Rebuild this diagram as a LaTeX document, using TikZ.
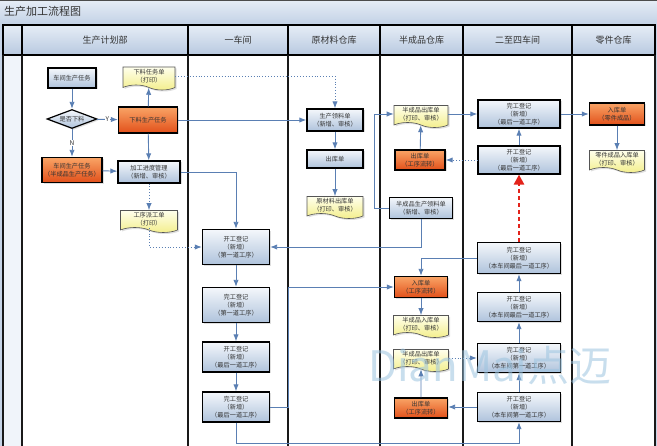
\documentclass[tikz,border=0pt]{standalone}
\usepackage{fontspec}
\setmainfont{Noto Sans CJK SC}
\usetikzlibrary{arrows.meta,positioning,calc,shapes.geometric,shapes.symbols,shadows}
\definecolor{LineBlue}{HTML}{5A7FB3}
\definecolor{TextGray}{HTML}{333333}
\definecolor{BoxTop}{HTML}{F4F7FB}
\definecolor{BoxBot}{HTML}{AFC3DC}
\definecolor{OrTop}{HTML}{F9A466}
\definecolor{OrBot}{HTML}{E2501A}
\definecolor{DocTop}{HTML}{FFFFEC}
\definecolor{DocBot}{HTML}{F3EE8A}
\definecolor{DocLine}{HTML}{555555}
\definecolor{HeadTop}{HTML}{E6EDF6}
\definecolor{HeadBot}{HTML}{B8C9E0}
\definecolor{FrameBlue}{HTML}{C6D4E7}
\definecolor{RedDash}{HTML}{E3231B}
\definecolor{WaterBlue}{HTML}{9CC4E0}

\begin{document}
\begin{tikzpicture}[x=1pt, y=-1pt, >=Latex,
  every node/.style={font=\fontsize{6.2}{8.2}\selectfont, text=TextGray, align=center, inner sep=1pt},
  bluebox/.style={draw=black, line width=1.2pt, top color=BoxTop, bottom color=BoxBot,
    drop shadow={opacity=0.25, shadow xshift=1.5pt, shadow yshift=-1.5pt}},
  orangebox/.style={draw=black, line width=1.2pt, top color=OrTop, bottom color=OrBot,
    drop shadow={opacity=0.25, shadow xshift=1.5pt, shadow yshift=-1.5pt}},
  docnote/.style={tape, tape bend top=none, tape bend bottom=out and in, tape bend height=5pt,
    draw=DocLine, line width=0.6pt, top color=DocTop, bottom color=DocBot,
    drop shadow={opacity=0.25, shadow xshift=1.5pt, shadow yshift=-1.5pt}},
  lanehead/.style={draw=black, line width=1.2pt, top color=HeadTop, bottom color=HeadBot},
  laneline/.style={draw=black!90, line width=1.5pt},
  flow/.style={->, draw=LineBlue, line width=0.9pt},
  dotflow/.style={->, draw=LineBlue, line width=0.9pt, dotted},
  redflow/.style={-{Triangle[length=10pt,width=10pt]}, draw=RedDash, line width=2.6pt, dash pattern=on 4pt off 3pt},
  yn/.style={fill=white, inner sep=0.5pt, font=\fontsize{6.5}{7}\selectfont}]
  \useasboundingbox (0,0) rectangle (657,446);
  \fill[FrameBlue] (0,0) rectangle (657,446);
  \shade[top color=HeadTop, bottom color=FrameBlue] (0,0) rectangle (657,22);
  \draw[black!70, line width=1pt] (0,0.5) -- (657,0.5);
  \node[anchor=west, font=\fontsize{11}{11}\selectfont] (title) at (3,11) {生产加工流程图};
  \fill[white] (22,55) rectangle (655,446);
  \fill[HeadTop!60] (3,55) rectangle (22,446);
  \draw[lanehead] (3,25) rectangle (22,55);
  \foreach \xa/\xb/\lane [count=\i] in {22/188/生产计划部, 188/288/一车间, 288/380/原材料仓库,
      380/463/半成品仓库, 463/572/二至四车间, 572/655/零件仓库} {
    \draw[lanehead] (\xa,25) rectangle (\xb,55);
    \node[font=\fontsize{9}{9}\selectfont] (h\i) at ({(\xa+\xb)/2},40) {\lane};
  }
  \foreach \x in {3,22,188,288,380,463,572,655}
    \draw[laneline] (\x,55) -- (\x,446);

  \node[bluebox, minimum width=48pt, minimum height=20pt] (task) at (72,78) {车间生产任务};
  \node[diamond, bluebox, aspect=2.6, inner sep=0pt, minimum width=50pt, minimum height=19pt] (cut) at (72,119) {是否下料};
  \node[orangebox, minimum width=59pt, minimum height=26pt] (cuttask) at (148,120) {下料生产任务};
  \node[docnote, minimum width=52pt, minimum height=23pt] (cutdoc) at (149,76) {下料任务单\\（打印）};
  \node[orangebox, minimum width=60pt, minimum height=25pt] (semitask) at (72,170) {车间生产任务\\（半成品生产任务）};
  \node[bluebox, minimum width=62pt, minimum height=22pt] (prog) at (149,172) {加工进度管理\\（新增、审核）};
  \node[docnote, minimum width=57pt, minimum height=22pt] (disp) at (149,219) {工序派工单\\（打印）};

  \node[bluebox, minimum width=67pt, minimum height=35pt] (s1) at (236,247) {开工登记\\（新增）\\（第一道工序）};
  \node[bluebox, minimum width=67pt, minimum height=35pt] (f1) at (236,305) {完工登记\\（新增）\\（第一道工序）};
  \node[bluebox, minimum width=67pt, minimum height=30pt] (sl) at (236,357) {开工登记\\（新增）\\（最后一道工序）};
  \node[bluebox, minimum width=67pt, minimum height=30pt] (fl) at (236,407) {完工登记\\（新增）\\（最后一道工序）};

  \node[bluebox, minimum width=56pt, minimum height=22pt] (pick) at (335,120) {生产领料单\\（新增、审核）};
  \node[bluebox, minimum width=56pt, minimum height=18pt] (rout) at (335,159) {出库单};
  \node[docnote, minimum width=56pt, minimum height=22pt] (rdoc) at (335,205) {原材料出库单\\（打印、审核）};

  \node[docnote, minimum width=54pt, minimum height=22pt] (sdoc1) at (421,114) {半成品出库单\\（打印、审核）};
  \node[orangebox, minimum width=50pt, minimum height=20pt] (sout1) at (420,160) {出库单\\（工序流转）};
  \node[bluebox, minimum width=63pt, minimum height=21pt] (spick) at (421,208) {半成品生产领料单\\（新增、审核）};
  \node[orangebox, minimum width=53pt, minimum height=21pt] (sin) at (421,287) {入库单\\（工序流转）};
  \node[docnote, minimum width=55pt, minimum height=22pt] (sdoc2) at (421,324) {半成品入库单\\（打印、审核）};
  \node[docnote, minimum width=55pt, minimum height=22pt] (sdoc3) at (421,358) {半成品出库单\\（打印、审核）};
  \node[orangebox, minimum width=53pt, minimum height=20pt] (sout2) at (421,408) {出库单\\（工序流转）};

  \node[bluebox, minimum width=82pt, minimum height=28pt] (fL) at (519,114) {完工登记\\（新增）\\（最后一道工序）};
  \node[bluebox, minimum width=82pt, minimum height=28pt] (sL) at (519,160) {开工登记\\（新增）\\（最后一道工序）};
  \node[bluebox, minimum width=83pt, minimum height=31pt] (fOL) at (519,258) {完工登记\\（新增）\\（本车间最后一道工序）};
  \node[bluebox, minimum width=83pt, minimum height=29pt] (sOL) at (519,307) {开工登记\\（新增）\\（本车间最后一道工序）};
  \node[bluebox, minimum width=83pt, minimum height=29pt] (fOF) at (519,358) {完工登记\\（新增）\\（本车间第一道工序）};
  \node[bluebox, minimum width=83pt, minimum height=29pt] (sOF) at (519,407) {开工登记\\（新增）\\（本车间第一道工序）};

  \node[orangebox, minimum width=55pt, minimum height=22pt] (pin) at (617,114) {入库单\\（零件成品）};
  \node[docnote, minimum width=55pt, minimum height=22pt] (pdoc) at (617,159) {零件成品入库单\\（打印、审核）};

  \draw[flow] (task) -- (cut);
  \draw[flow] (cut) -- node[yn] {Y} (cuttask);
  \draw[flow] (cut) -- node[yn] {N} (semitask);
  \draw[flow] (cuttask) -- (cutdoc);
  \draw[flow] (cuttask) -- (prog);
  \draw[flow] (semitask) -- (prog);
  \draw[flow] (cuttask) -- (pick);
  \draw[dotflow] (cutdoc.east) -| (pick.north);
  \draw[flow] (prog.east) -| (s1.north);
  \draw[dotflow] (prog) -- (disp);
  \draw[dotflow] (disp.south) |- (s1.west);
  \draw[flow] (s1) -- (f1);
  \draw[flow] (f1) -- (sl);
  \draw[flow] (sl) -- (fl);
  \draw[flow] (pick) -- (rout);
  \draw[flow] (rout) -- (rdoc);
  \draw[flow] (spick.west) -- ++(-14,0) |- (sdoc1.west);
  \draw[flow] (sout1) -- (sdoc1);
  \draw[flow] (sdoc1.east) -- (fL.west |- sdoc1.east);
  \draw[dotflow] (sL.west) -- (sout1.east |- sL.west);
  \draw[flow] (sL) -- (fL);
  \draw[flow] (fL) -- (pin);
  \draw[flow] (pin) -- (pdoc);
  \draw[redflow] (fOL) -- (sL);
  \draw[flow] (sOL) -- (fOL);
  \draw[flow] (fOF) -- (sOL);
  \draw[flow] (sOF) -- (fOF);
  \draw[flow] (fOL.west) -| (sin.north);
  \draw[flow] (spick.south) |- (s1.east);
  \draw[flow] (fl.east) -- ++(18,0) |- (sin.west);
  \draw[flow] (fl.south) -- ++(0,21) -| (sOF.south);
  \draw[flow] (sOF.west) -- (sout2.east |- sOF.west);
  \draw[flow] (sout2) -- (sdoc3);
  \draw[dotflow] (sdoc3.east) -- (fOF.west |- sdoc3.east);
  \draw[flow] (sin) -- (sdoc2);

  \node[text=WaterBlue, opacity=0.55, font=\fontsize{42}{42}\selectfont] (wm) at (490,366) {DianMai点迈};
\end{tikzpicture}
\end{document}
